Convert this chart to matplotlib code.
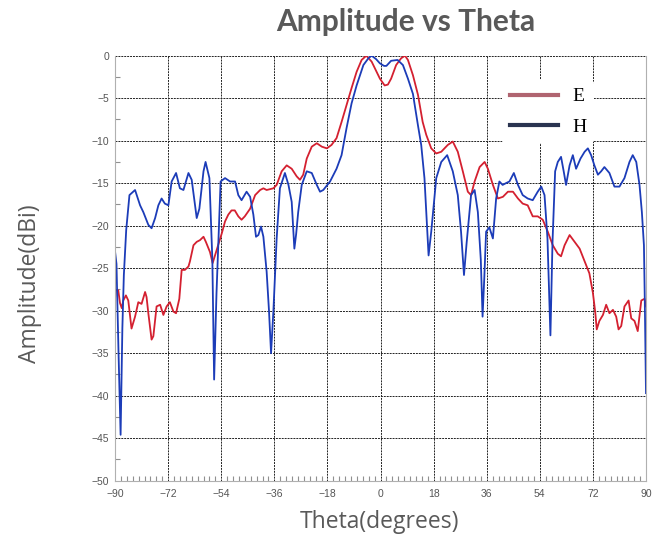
import matplotlib.pyplot as plt
from matplotlib.lines import Line2D
from matplotlib.ticker import MultipleLocator

# angulos e amplitudes
theta_e = [-90, -89.7, -88.9, -88.3, -87.7, -87.2, -86.3, -85.5, -84.4, -83.2,
           -82.1, -81.0, -79.8, -79.3, -78.7, -77.6, -77.0, -75.9, -74.7, -73.6,
           -72.5, -71.4, -70.2, -69.3, -68.2, -67.4, -66.3, -65.1, -64.6, -63.4,
           -62.3, -61.2, -60.0, -59.2, -57.8, -56.9, -56.1, -55.0, -53.8, -52.7,
           -51.6, -50.5, -49.4, -48.2, -47.1, -46.0, -44.2, -42.5, -40.8, -39.7,
           -38.6, -36.3, -35.2, -33.5, -31.8, -30.1, -28.4, -27.3, -26.2, -25.0,
           -23.3, -21.6, -19.9, -18.2, -16.6, -14.9, -13.2, -11.5, -9.8, -8.1,
           -6.4, -4.8, -3.0, -1.3, -0.2, 1.4, 2.5, 3.6, 5.3, 7.0,
           8.3, 9.3, 11.0, 12.7, 14.3, 15.5, 17.2, 18.9, 20.6, 22.8,
           24.5, 26.2, 27.9, 29.6, 30.7, 31.9, 33.6, 35.3, 36.4, 38.1,
           39.8, 41.5, 43.2, 44.9, 46.6, 48.2, 49.9, 51.6, 53.3, 55.0,
           56.7, 58.4, 60.1, 61.2, 62.4, 64.1, 65.8, 67.5, 69.2, 70.8,
           72.0, 72.8, 73.3, 74.2, 75.4, 76.5, 77.6, 78.8, 79.9, 80.7,
           81.6, 82.7, 84.1, 85.0, 86.1, 87.2, 88.4, 89.5, 90.0]
amp_e = [-28.6, -27.6, -27.6, -29.1, -29.7, -28.8, -28.2, -28.8, -32.1, -30.7,
         -29.0, -29.2, -27.8, -28.4, -30.3, -33.4, -33.0, -29.5, -29.3, -30.5,
         -29.5, -29.0, -30.1, -30.3, -28.6, -25.2, -25.2, -24.8, -24.2, -22.3,
         -21.9, -21.7, -21.3, -21.9, -23.1, -24.4, -23.5, -22.3, -20.9, -19.5,
         -18.7, -18.2, -18.2, -18.9, -19.3, -18.9, -18.0, -16.4, -15.8, -15.6,
         -15.8, -15.6, -15.2, -13.6, -12.9, -13.3, -14.2, -14.6, -14.0, -12.1,
         -10.7, -10.3, -10.7, -10.9, -10.5, -9.7, -7.8, -5.8, -3.8, -1.9,
         -0.5, 0.0, -0.7, -1.9, -2.7, -3.5, -3.4, -2.7, -1.1, -0.3,
         0.0, -0.5, -2.3, -4.6, -7.8, -9.3, -10.9, -11.5, -11.3, -10.5,
         -10.1, -11.3, -13.6, -16.0, -16.4, -14.8, -13.1, -12.5, -13.3, -15.2,
         -16.8, -16.6, -16.0, -16.0, -16.8, -17.4, -17.6, -18.9, -18.9, -19.3,
         -20.7, -22.3, -23.3, -23.6, -22.3, -21.1, -21.9, -22.7, -24.2, -25.6,
         -27.9, -30.2, -32.2, -31.2, -30.5, -29.3, -30.3, -29.9, -30.7, -32.2,
         -31.8, -29.5, -28.8, -30.9, -31.2, -32.4, -28.8, -28.6, -29.5]

theta_h = [-90, -89.5, -88.8, -88.1, -87.5, -87.0, -86.2, -85.1, -83.2, -81.5,
           -80.4, -78.7, -77.6, -76.4, -75.3, -74.2, -73.1, -71.9, -70.8, -69.3,
           -68.0, -66.8, -65.1, -64.0, -62.3, -61.4, -60.0, -59.3, -58.0, -57.0,
           -56.4, -55.6, -54.2, -52.7, -51.0, -49.3, -48.2, -47.1, -45.4, -44.2,
           -43.1, -42.2, -41.4, -40.5, -39.7, -38.6, -37.8, -37.1, -36.3, -35.2,
           -34.1, -32.4, -31.2, -30.1, -29.2, -28.6, -27.9, -26.7, -25.0, -23.3,
           -21.6, -20.5, -19.4, -17.1, -14.9, -13.2, -11.5, -9.8, -8.1, -5.8,
           -4.1, -3.0, -1.5, -0.2, 1.2, 2.0, 3.6, 5.8, 7.6, 9.3,
           11.0, 12.7, 13.8, 14.9, 16.0, 16.3, 17.2, 18.9, 20.6, 22.6,
           24.5, 26.2, 27.3, 28.3, 29.2, 30.7, 31.9, 33.0, 34.0, 34.6,
           35.2, 35.8, 36.9, 38.1, 39.2, 40.3, 41.4, 42.5, 43.7, 45.2,
           46.6, 48.2, 49.9, 51.6, 53.3, 54.5, 55.6, 56.6, 57.6, 58.3,
           59.2, 60.1, 61.2, 62.1, 62.9, 64.1, 65.2, 66.3, 67.8, 69.2,
           70.3, 71.4, 72.5, 73.7, 74.8, 75.9, 77.6, 79.3, 81.0, 82.7,
           84.4, 85.5, 86.7, 87.8, 88.6, 89.3, 89.6, 90.0]
amp_h = [-23.0, -24.5, -35.0, -44.6, -32.0, -25.8, -20.5, -16.4, -15.8, -17.6,
         -18.4, -19.9, -20.3, -19.1, -17.6, -16.8, -17.4, -17.6, -14.8, -13.8,
         -15.6, -15.8, -13.8, -14.6, -19.1, -18.0, -13.6, -12.5, -14.4, -24.0,
         -38.1, -28.0, -14.8, -14.4, -14.8, -14.8, -16.4, -17.0, -16.0, -16.6,
         -18.7, -21.3, -21.1, -20.1, -21.3, -25.4, -30.0, -35.0, -30.0, -21.5,
         -15.6, -13.8, -15.2, -17.2, -22.7, -21.0, -18.4, -15.2, -13.6, -13.8,
         -15.2, -16.0, -15.8, -14.8, -13.3, -11.7, -8.5, -5.6, -3.5, -1.1,
         -0.3, 0.0, -0.4, -0.9, -1.2, -1.2, -0.6, -0.5, -1.1, -2.7,
         -4.5, -8.2, -10.5, -14.4, -21.5, -23.5, -20.7, -14.4, -12.5, -11.7,
         -13.6, -16.4, -20.7, -25.8, -22.0, -16.4, -15.8, -18.4, -24.0, -30.7,
         -26.0, -20.7, -20.2, -21.5, -16.8, -14.8, -15.2, -15.0, -14.8, -13.8,
         -15.2, -16.4, -16.8, -17.0, -16.0, -15.4, -16.4, -21.5, -32.9, -22.0,
         -13.6, -12.5, -11.9, -13.6, -15.2, -12.9, -11.7, -13.3, -12.1, -11.3,
         -10.9, -11.7, -12.9, -14.0, -13.6, -13.1, -13.8, -15.4, -15.4, -14.4,
         -12.5, -11.7, -12.5, -15.2, -18.4, -22.3, -29.0, -39.7]

fig = plt.figure(figsize=(6.52, 5.42), dpi=100)
ax = fig.add_axes([115/652, 1-480.7/542, 531/652, 425/542])

ax.plot(theta_e, amp_e, color='#d42030', lw=1.3)
ax.plot(theta_h, amp_h, color='#1c3cb8', lw=1.3)

ax.set_xlim(-90, 90)
ax.set_ylim(-50, 0)
ax.xaxis.set_major_locator(MultipleLocator(18))
ax.xaxis.set_minor_locator(MultipleLocator(2))
ax.yaxis.set_major_locator(MultipleLocator(5))
ax.yaxis.set_minor_locator(MultipleLocator(2.5))
ax.grid(True, which='major', color='#222222', linestyle=(0, (2, 1)), lw=0.7)
ax.tick_params(which='major', length=0, labelsize=7.5, labelcolor='#555555')
ax.tick_params(axis='x', which='major', pad=6)
ax.tick_params(axis='y', which='major', pad=4)
ax.tick_params(which='minor', direction='in', length=3.5, color='#909090', width=0.8)
for lbl in ax.get_xticklabels() + ax.get_yticklabels():
    lbl.set_family('Liberation Sans')
for s in ['left', 'bottom', 'right']:
    ax.spines[s].set_color('#b0b0b0')
ax.spines['top'].set_visible(False)

# legenda
handles = [Line2D([0], [0], color='#b06470', lw=3),
           Line2D([0], [0], color='#2a3450', lw=3)]
fig.legend(handles, ['E', 'H'], loc='upper left',
           bbox_to_anchor=(502/652, 1-80/542), borderaxespad=0, borderpad=0.4,
           frameon=True, facecolor='white', edgecolor='none', framealpha=1,
           prop={'family': 'Liberation Serif', 'size': 14},
           handlelength=2.5, handletextpad=0.7, labelspacing=0.65)

fig.text(406/652, 1-22/542, 'Amplitude vs Theta', ha='center', va='center',
         fontsize=21.5, fontweight='bold', family='Lato', color='#595959')
fig.text(380/652, 1-522/542, 'Theta(degrees)', ha='center', va='center',
         fontsize=16.5, family='Open Sans', color='#595959')
fig.text(30/652, 1-284/542, 'Amplitude(dBi)', ha='center', va='center',
         rotation=90, fontsize=16.5, family='Open Sans', color='#595959')

fig.savefig('out.png', dpi=100)
